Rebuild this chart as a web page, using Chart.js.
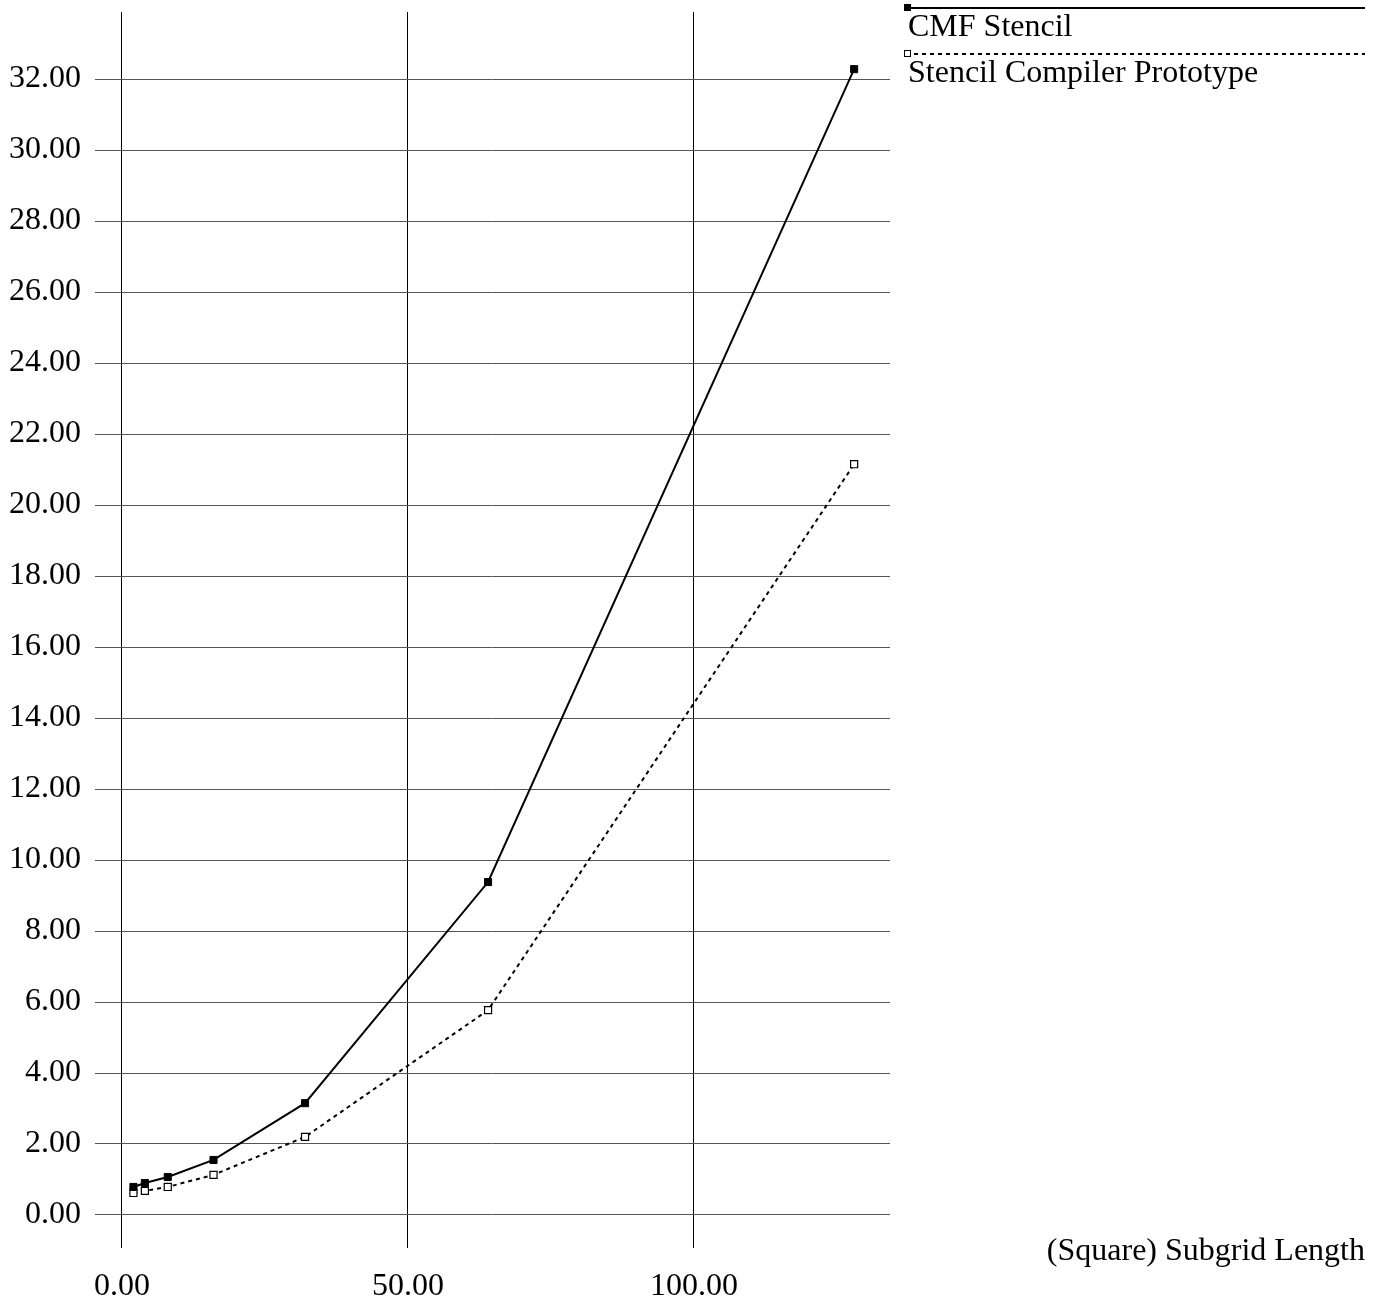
<!DOCTYPE html>
<html>
<head>
<meta charset="utf-8">
<script src="https://cdn.jsdelivr.net/npm/chart.js@4/dist/chart.umd.min.js"></script>
<style>
  html, body { margin: 0; padding: 0; background: #fff; }
  #wrap { width: 1385px; height: 1304px; position: relative; }
</style>
</head>
<body>
<div id="wrap"><canvas id="chart"></canvas></div>
<script>
// datos
const subgridLength = [2, 4, 8, 16, 32, 64, 128];
const cmfStencil = [0.79, 0.90, 1.07, 1.55, 3.15, 9.38, 32.28];
const compilerPrototype = [0.62, 0.68, 0.79, 1.13, 2.20, 5.77, 21.15];
const xTickValues = [0, 50, 100];
const yTickValues = [0, 2, 4, 6, 8, 10, 12, 14, 16, 18, 20, 22, 24, 26, 28, 30, 32];
const seriesNames = ["CMF Stencil", "Stencil Compiler Prototype"];
const xTitle = "(Square) Subgrid Length";

const FONT = "'Liberation Serif', 'Times New Roman', serif";

function toPoints(xs, ys) {
    return xs.map((x, i) => ({ x: x, y: ys[i] }));
}

// leyenda y titulo del eje dibujados a mano, como en el original
const extrasPlugin = {
    id: 'extras',
    afterDraw(chart) {
        const ctx = chart.ctx;
        ctx.save();
        ctx.strokeStyle = '#000';
        ctx.fillStyle = '#000';
        ctx.lineWidth = 2;
        // serie 1: linea continua
        ctx.beginPath();
        ctx.moveTo(906, 8);
        ctx.lineTo(1365, 8);
        ctx.stroke();
        ctx.fillRect(904, 4, 7, 7);
        // serie 2: linea punteada
        ctx.setLineDash([4, 4]);
        ctx.beginPath();
        ctx.moveTo(906, 54);
        ctx.lineTo(1365, 54);
        ctx.stroke();
        ctx.setLineDash([]);
        ctx.fillStyle = '#fff';
        ctx.fillRect(904, 50, 7, 7);
        ctx.lineWidth = 1;
        ctx.strokeRect(904.5, 50.5, 6, 6);

        ctx.fillStyle = '#000';
        ctx.font = '32px ' + FONT;
        ctx.textAlign = 'left';
        ctx.textBaseline = 'alphabetic';
        ctx.fillText(seriesNames[0], 908, 36);
        ctx.fillText(seriesNames[1], 908, 82);
        ctx.textAlign = 'right';
        ctx.fillText(xTitle, 1365, 1260);
        ctx.restore();
    }
};

new Chart(document.getElementById('chart'), {
    type: 'scatter',
    data: {
        datasets: [{
            label: seriesNames[0],
            data: toPoints(subgridLength, cmfStencil),
            showLine: true,
            borderColor: '#000',
            borderWidth: 2,
            pointStyle: 'rect',
            pointRadius: 5,
            pointBackgroundColor: '#000',
            pointBorderColor: '#000',
            pointBorderWidth: 1
        }, {
            label: seriesNames[1],
            data: toPoints(subgridLength, compilerPrototype),
            showLine: true,
            borderColor: '#000',
            borderWidth: 2,
            borderDash: [4, 4],
            pointStyle: 'rect',
            pointRadius: 5,
            pointBackgroundColor: '#fff',
            pointBorderColor: '#000',
            pointBorderWidth: 1.2
        }]
    },
    options: {
        responsive: true,
        maintainAspectRatio: false,
        animation: false,
        layout: { padding: { left: 0, top: 12, right: 495, bottom: 0 } },
        plugins: {
            legend: { display: false },
            tooltip: { enabled: false }
        },
        scales: {
            x: {
                type: 'linear',
                min: -4.72,
                max: 134.27,
                afterBuildTicks: (scale) => { scale.ticks = xTickValues.map(v => ({ value: v })); },
                afterFit: (scale) => {
                    scale.height = 56;
                    scale.paddingLeft = 0;
                    scale.paddingRight = 0;
                },
                border: { display: false },
                grid: { color: '#000', lineWidth: 1, drawTicks: false },
                ticks: {
                    padding: 19,
                    color: '#000',
                    font: { family: FONT, size: 32 },
                    maxRotation: 0,
                    callback: (v) => Number(v).toFixed(2)
                }
            },
            y: {
                type: 'linear',
                min: -0.93,
                max: 33.89,
                afterBuildTicks: (scale) => { scale.ticks = yTickValues.map(v => ({ value: v })); },
                afterFit: (scale) => {
                    scale.width = 95;
                    scale.paddingTop = 0;
                    scale.paddingBottom = 0;
                },
                border: { display: false },
                grid: { color: '#555', lineWidth: 1, drawTicks: false },
                ticks: {
                    padding: 14,
                    color: '#000',
                    font: { family: FONT, size: 32 },
                    callback: (v) => Number(v).toFixed(2)
                }
            }
        }
    },
    plugins: [extrasPlugin]
});
</script>
</body>
</html>
